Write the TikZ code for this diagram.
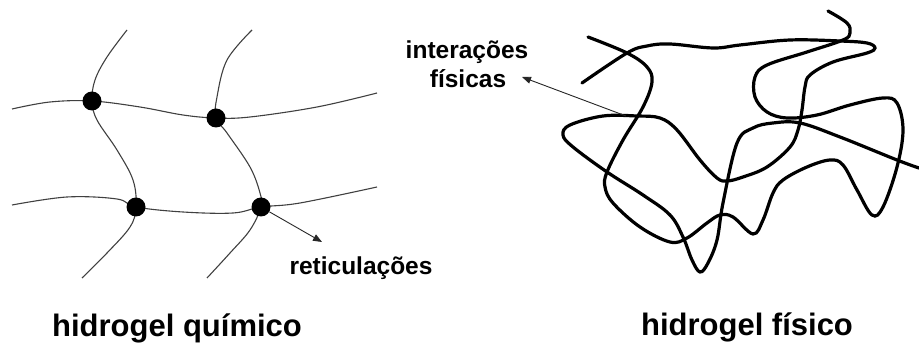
\documentclass[tikz,border=0pt]{standalone}
\usepackage{fontspec}
\setmainfont{Liberation Sans}
\usetikzlibrary{arrows.meta,backgrounds}
\begin{document}
\begin{tikzpicture}[x=1pt,y=-1pt,
  net/.style={line width=1.1pt, draw=black!75},
  strand/.style={line width=3.2pt, draw=black, line cap=round},
  knot/.style={circle, fill=black, minimum size=19pt, inner sep=0pt},
  lbl/.style={font=\bfseries\fontsize{24.5}{29}\selectfont, inner sep=0pt, anchor=base},
  title/.style={font=\bfseries\fontsize{31}{36}\selectfont, inner sep=0pt, anchor=base},
  pointer/.style={line width=0.9pt, draw=black!85, -{Triangle[length=9pt,width=7pt]}}]
\useasboundingbox (0,0) rectangle (919,344);

% chemical hydrogel: crosslink knots
\node[knot] (d1) at (92,101) {};
\node[knot] (d2) at (216,118) {};
\node[knot] (d3) at (136,207) {};
\node[knot] (d4) at (261,207) {};

\begin{scope}[on background layer]
\draw[net] plot[smooth, tension=0.6] coordinates {(12,109) (50,102) (d1.center) (140,107) (183,115) (d2.center) (250,117) (317,107) (377,93)};
\draw[net] plot[smooth, tension=0.6] coordinates {(12,205) (67,197) (117,199) (d3.center) (183,212) (233,213) (d4.center) (300,203) (377,187)};
\draw[net] plot[smooth, tension=0.6] coordinates {(127,30) (107,57) (95,80) (d1.center) (97,120) (117,150) (133,180) (d3.center) (130,227) (107,253) (82,278)};
\draw[net] plot[smooth, tension=0.6] coordinates {(252,30) (227,60) (217,97) (d2.center) (227,133) (250,167) (260,193) (d4.center) (250,230) (230,253) (207,278)};
\end{scope}

\coordinate (rtip) at (322,242);
\draw[pointer] (d4) -- (rtip);
\node[lbl] (ret) at (361,275) {reticulações};

% physical hydrogel: entangled strands
\draw[strand] plot[smooth, tension=0.6] coordinates {(588,37) (627,53) (647,67) (652,82) (643,107) (623,140) (607,172) (605,187) (613,203) (640,227) (670,242) (687,238) (707,223) (720,215) (733,217) (753,234) (763,220) (773,193) (783,180) (807,167) (830,160) (843,165) (857,190) (872,215) (883,207) (897,167) (903,130) (897,103) (883,98) (850,105) (817,115) (787,118) (767,112) (755,97) (755,77) (767,65) (807,52) (843,40) (850,33) (847,23) (828,11)};
\draw[strand] plot[smooth, tension=0.6] coordinates {(582,83) (627,53) (647,46) (670,44) (713,48) (740,45) (790,40) (840,41) (867,43) (875,48) (867,53) (833,62) (810,75) (805,87) (802,110) (798,130) (790,147) (767,167) (743,177) (727,181) (717,178) (700,160) (677,130) (660,118) (637,116) (603,116) (570,125) (563,135) (573,147) (607,172) (643,195) (670,215) (683,237) (692,260) (700,272) (708,263) (717,240) (723,203) (737,143) (753,128) (773,123) (800,123) (840,137) (897,160) (919,168)};

\coordinate (cross) at (626,116);
\coordinate (ptip) at (522,77);
\draw[pointer] (cross) -- (ptip);
\node[lbl] (int1) at (467,59) {interações};
\node[lbl] (int2) at (468,88) {físicas};

% titles
\node[title] (hq) at (177,337) {hidrogel químico};
\node[title] (hf) at (747,336) {hidrogel físico};
\end{tikzpicture}
\end{document}
